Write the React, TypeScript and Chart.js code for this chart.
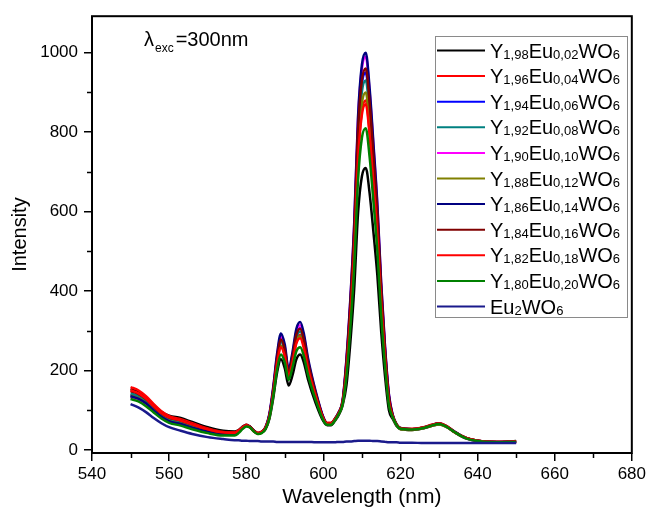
import { useEffect, useRef } from "react";
import { Chart, registerables } from "chart.js";

Chart.register(...registerables);

const wavelengths = [550, 552, 554, 556, 558, 560, 563, 566, 570, 574, 577, 578, 579, 580, 581, 582, 583, 584, 585, 586, 587, 588, 589, 590, 591, 592, 593, 594, 595, 596, 598, 600, 601, 602, 603, 604, 605, 606, 607, 608, 609, 610, 611, 612, 613, 614, 615, 616, 617, 618, 619, 620, 623, 626, 628, 630, 632, 634, 637, 640, 645, 650];

const y198 = [153, 146, 132, 113, 96, 86, 80, 70, 57, 48, 46, 50, 58, 63, 58, 48, 42, 44, 52, 78, 130, 195, 228, 205, 162, 188, 228, 240, 218, 178, 118, 72, 62, 62, 73, 88, 112, 163, 270, 405, 596, 689, 710, 646, 547, 440, 298, 185, 100, 78, 60, 52, 50, 54, 60, 64, 58, 45, 30, 23, 20, 22];
const y196 = [158, 150, 135, 115, 97, 85, 77, 67, 54, 45, 44, 49, 57, 63, 58, 48, 43, 46, 56, 85, 145, 220, 262, 238, 190, 225, 275, 290, 262, 212, 138, 80, 68, 68, 77, 93, 120, 202, 334, 502, 739, 854, 880, 801, 678, 546, 370, 229, 123, 84, 63, 54, 53, 57, 63, 67, 60, 46, 30, 23, 20, 21];
const y194 = [138, 132, 120, 102, 86, 75, 68, 58, 47, 40, 40, 46, 55, 61, 57, 47, 41, 44, 55, 86, 150, 230, 278, 252, 196, 234, 290, 306, 276, 222, 142, 80, 66, 66, 76, 92, 120, 219, 361, 542, 798, 922, 950, 865, 732, 589, 399, 247, 133, 84, 62, 53, 51, 55, 61, 65, 58, 45, 29, 22, 19, 20];
const y192 = [142, 136, 123, 105, 88, 77, 70, 60, 49, 41, 41, 47, 56, 62, 57, 47, 41, 44, 55, 85, 148, 226, 272, 246, 192, 230, 283, 298, 270, 217, 140, 79, 66, 66, 76, 92, 120, 214, 353, 530, 781, 902, 930, 846, 716, 577, 391, 242, 130, 84, 62, 53, 51, 55, 61, 65, 58, 45, 29, 22, 19, 20];
const y190 = [132, 126, 114, 97, 82, 71, 64, 55, 45, 38, 38, 45, 54, 61, 57, 47, 41, 44, 56, 88, 154, 236, 285, 258, 199, 240, 298, 314, 283, 227, 145, 81, 66, 66, 77, 94, 124, 228, 376, 564, 832, 960, 990, 901, 762, 614, 416, 257, 139, 86, 63, 54, 51, 55, 61, 66, 58, 45, 29, 22, 19, 20];
const y188 = [136, 130, 118, 100, 84, 73, 66, 57, 46, 39, 39, 45, 54, 60, 56, 46, 40, 43, 54, 83, 143, 218, 262, 238, 186, 222, 272, 286, 259, 209, 136, 77, 64, 64, 75, 91, 118, 207, 342, 513, 756, 873, 900, 819, 693, 558, 378, 234, 126, 82, 61, 52, 50, 54, 60, 64, 57, 44, 29, 22, 19, 20];
const y186 = [135, 129, 117, 99, 83, 72, 65, 56, 46, 39, 39, 46, 55, 62, 58, 48, 42, 45, 57, 90, 158, 242, 293, 265, 203, 246, 305, 322, 290, 232, 148, 82, 67, 67, 78, 95, 125, 230, 380, 570, 840, 970, 1000, 910, 770, 620, 420, 260, 140, 88, 64, 55, 52, 56, 62, 67, 59, 46, 30, 23, 20, 21];
const y184 = [148, 141, 128, 109, 92, 81, 74, 64, 52, 44, 43, 48, 56, 62, 58, 48, 42, 45, 56, 86, 150, 230, 278, 252, 195, 234, 290, 305, 275, 221, 142, 80, 67, 67, 78, 94, 122, 221, 365, 547, 806, 931, 960, 874, 739, 595, 403, 250, 134, 86, 64, 55, 52, 56, 62, 66, 59, 45, 30, 23, 20, 21];
const y182 = [150, 143, 129, 110, 93, 82, 74, 64, 52, 44, 43, 48, 56, 62, 57, 47, 42, 45, 55, 84, 142, 216, 258, 235, 185, 220, 268, 281, 254, 206, 135, 78, 66, 66, 77, 92, 119, 200, 331, 496, 731, 844, 870, 792, 670, 539, 365, 226, 122, 84, 63, 54, 52, 56, 62, 66, 59, 45, 30, 23, 20, 21];
const y180 = [128, 122, 110, 94, 79, 68, 61, 52, 42, 36, 36, 42, 52, 59, 56, 46, 40, 42, 52, 80, 135, 202, 240, 220, 176, 208, 248, 258, 234, 190, 126, 74, 63, 63, 74, 90, 115, 186, 308, 462, 680, 786, 810, 737, 624, 502, 340, 211, 113, 82, 62, 53, 51, 55, 61, 65, 58, 45, 29, 22, 19, 20];
const yEu2 = [115, 107, 95, 80, 67, 57, 48, 40, 32, 27, 24, 24, 23, 23, 22, 22, 22, 21, 21, 21, 21, 20, 20, 20, 20, 20, 20, 20, 20, 20, 19, 19, 19, 19, 19, 20, 20, 21, 21, 22, 23, 23, 23, 23, 22, 22, 21, 20, 19, 19, 19, 18, 18, 17, 17, 17, 17, 17, 17, 17, 17, 17];

const seriesValues = [y198, y196, y194, y192, y190, y188, y186, y184, y182, y180, yEu2];
const seriesNames = [
  "Y1,98Eu0,02WO6",
  "Y1,96Eu0,04WO6",
  "Y1,94Eu0,06WO6",
  "Y1,92Eu0,08WO6",
  "Y1,90Eu0,10WO6",
  "Y1,88Eu0,12WO6",
  "Y1,86Eu0,14WO6",
  "Y1,84Eu0,16WO6",
  "Y1,82Eu0,18WO6",
  "Y1,80Eu0,20WO6",
  "Eu2WO6",
];
const seriesColors = ["#000000", "#ff0000", "#0000ff", "#008080", "#ff00ff", "#808000", "#000080", "#800000", "#ff0000", "#008000", "#1a1a8c"];

const xTicks = [540, 560, 580, 600, 620, 640, 660, 680];
const xMinorTicks = [550, 570, 590, 610, 630, 650, 670];
const yTicks = [0, 200, 400, 600, 800, 1000];
const yMinorTicks = [100, 300, 500, 700, 900];

const xTitle = "Wavelength (nm)";
const yTitle = "Intensity";
const noteSymbol = "λ";
const noteSub = "exc";
const noteRest = "=300nm";

const FONT = "'Liberation Sans', Arial, Helvetica, sans-serif";

function splitFormula(s: string) {
  const parts: { t: string; sub: boolean }[] = [];
  const re = /([^0-9,]+)|([0-9,]+)/g;
  let m: RegExpExecArray | null;
  while ((m = re.exec(s))) {
    if (m[1]) parts.push({ t: m[1], sub: false });
    else parts.push({ t: m[2], sub: true });
  }
  return parts;
}

const decorPlugin = {
  id: "decor",
  afterDraw(chart: any) {
    const { ctx, chartArea: a } = chart;
    const xs = chart.scales.x;
    const ys = chart.scales.y;
    ctx.save();
    // frame
    ctx.strokeStyle = "#000";
    ctx.lineWidth = 2;
    ctx.strokeRect(a.left, a.top, a.right - a.left, a.bottom - a.top);
    // minor ticks
    ctx.lineWidth = 1.5;
    xMinorTicks.forEach((v) => {
      const px = Math.round(xs.getPixelForValue(v)) + 0.5;
      ctx.beginPath();
      ctx.moveTo(px, a.bottom);
      ctx.lineTo(px, a.bottom + 5);
      ctx.stroke();
    });
    yMinorTicks.forEach((v) => {
      const py = Math.round(ys.getPixelForValue(v)) + 0.5;
      ctx.beginPath();
      ctx.moveTo(a.left, py);
      ctx.lineTo(a.left - 5, py);
      ctx.stroke();
    });

    // legend
    const bx = 435, by = 36, bw = 192, bh = 281;
    ctx.fillStyle = "#fff";
    ctx.fillRect(bx, by, bw, bh);
    ctx.strokeStyle = "#8a8a8a";
    ctx.lineWidth = 1;
    ctx.strokeRect(bx + 0.5, by + 0.5, bw, bh);
    const rowH = 25.6;
    seriesNames.forEach((name, i) => {
      const cy = by + 14.5 + i * rowH;
      ctx.strokeStyle = seriesColors[i];
      ctx.lineWidth = 2;
      ctx.beginPath();
      ctx.moveTo(bx + 2, cy);
      ctx.lineTo(bx + 50, cy);
      ctx.stroke();
      let tx = bx + 55;
      const baseY = cy + 7;
      ctx.fillStyle = "#000";
      ctx.textBaseline = "alphabetic";
      ctx.textAlign = "left";
      splitFormula(name).forEach((p) => {
        ctx.font = p.sub ? `13px ${FONT}` : `20px ${FONT}`;
        ctx.fillText(p.t, tx, baseY + (p.sub ? 1 : 0));
        tx += ctx.measureText(p.t).width;
      });
    });

    // annotation
    ctx.fillStyle = "#000";
    ctx.textBaseline = "alphabetic";
    ctx.textAlign = "left";
    let nx = 144;
    ctx.font = `20px ${FONT}`;
    ctx.fillText(noteSymbol, nx, 46);
    nx += ctx.measureText(noteSymbol).width + 1;
    ctx.font = `12px ${FONT}`;
    ctx.fillText(noteSub, nx, 52);
    nx += ctx.measureText(noteSub).width + 2;
    ctx.font = `20px ${FONT}`;
    ctx.fillText(noteRest, nx, 46);
    ctx.restore();
  },
};

export default function App() {
  const ref = useRef<HTMLCanvasElement | null>(null);
  useEffect(() => {
    if (!ref.current) return;
    const datasets = seriesValues.map((vals, i) => ({
      label: seriesNames[i],
      data: wavelengths.map((w, j) => ({ x: w, y: vals[j] })),
      borderColor: seriesColors[i],
      backgroundColor: seriesColors[i],
      borderWidth: 2.5,
      pointRadius: 0,
      fill: false,
      cubicInterpolationMode: "monotone" as const,
      order: seriesValues.length - i,
    }));
    const chart = new Chart(ref.current, {
      type: "line",
      data: { datasets },
      options: {
        animation: false,
        responsive: false,
        maintainAspectRatio: false,
        layout: { padding: { top: 13, right: 12, left: 0, bottom: 0 } },
        plugins: { legend: { display: false }, tooltip: { enabled: false } },
        scales: {
          x: {
            type: "linear",
            min: 540,
            max: 680,
            afterFit: (s: any) => {
              s.height = 63;
            },
            afterBuildTicks: (s: any) => {
              s.ticks = xTicks.map((v) => ({ value: v }));
            },
            grid: { drawOnChartArea: false, drawTicks: true, tickLength: 8, color: "#000", lineWidth: 1.5 },
            border: { display: false },
            ticks: { color: "#000", font: { family: FONT, size: 17 }, padding: 3, maxRotation: 0, callback: (v: any) => String(v) },
            title: { display: true, text: xTitle, color: "#000", font: { family: FONT, size: 21 }, padding: { top: 0, bottom: 6 } },
          },
          y: {
            type: "linear",
            min: -8,
            max: 1092,
            afterFit: (s: any) => {
              s.width = 92;
            },
            afterBuildTicks: (s: any) => {
              s.ticks = yTicks.map((v) => ({ value: v }));
            },
            grid: { drawOnChartArea: false, drawTicks: true, tickLength: 8, color: "#000", lineWidth: 1.5 },
            border: { display: false },
            ticks: { color: "#000", font: { family: FONT, size: 17 }, padding: 6, callback: (v: any) => String(v) },
            title: { display: true, text: yTitle, color: "#000", font: { family: FONT, size: 20 }, padding: { top: 8, bottom: 0 } },
          },
        },
      },
      plugins: [decorPlugin],
    });
    return () => chart.destroy();
  }, []);
  return (
    <div style={{ position: "absolute", left: 0, top: 0, width: 649, height: 516, background: "#fff" }}>
      <canvas ref={ref} width={649} height={516} style={{ display: "block" }} />
    </div>
  );
}
